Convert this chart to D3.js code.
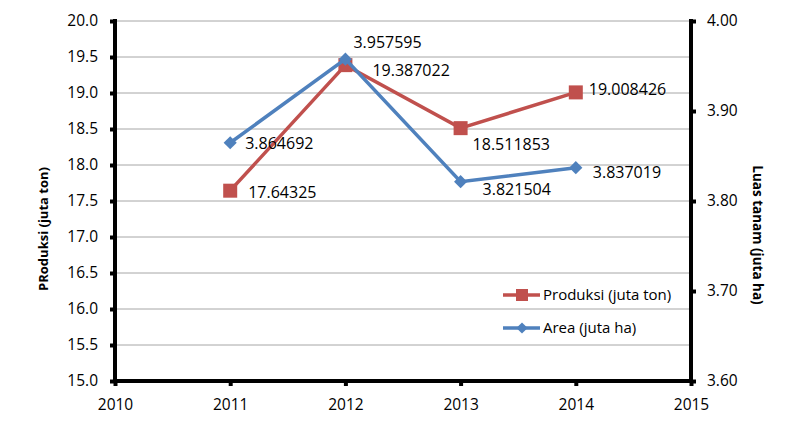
<!DOCTYPE html>
<html><head><meta charset="utf-8">
<script src="https://cdn.jsdelivr.net/npm/d3@7"></script>
<style>body{margin:0;background:#fff}svg{display:block}text{font-family:"Open Sans",sans-serif;fill:#000}</style>
</head><body><svg id="c" width="800" height="429"></svg>
<script>
const years = [2011, 2012, 2013, 2014];
const produksi = [17.64325, 19.387022, 18.511853, 19.008426];
const area = [3.864692, 3.957595, 3.821504, 3.837019];
const produksiLabels = ["17.64325", "19.387022", "18.511853", "19.008426"];
const areaLabels = ["3.864692", "3.957595", "3.821504", "3.837019"];
const xTicks = [2010, 2011, 2012, 2013, 2014, 2015];
const leftTicks = [15.0, 15.5, 16.0, 16.5, 17.0, 17.5, 18.0, 18.5, 19.0, 19.5, 20.0];
const rightTicks = [3.60, 3.70, 3.80, 3.90, 4.00];
const seriesNames = ["Produksi (juta ton)", "Area (juta ha)"];
const leftTitle = "PRoduksi (juta ton)";
const rightTitle = "Luas tanam (juta ha)";

// label offsets (style)
const pOff = [[18,2],[27,5],[12,16],[13,-3]];
const aOff = [[15,1],[8,-17],[22,8],[17,5]];

const svg = d3.select("#c");
const L = 115, R = 691, T = 21, B = 381;
const x = d3.scaleLinear().domain([2010, 2015]).range([L, R]);
const yL = d3.scaleLinear().domain([15, 20]).range([B, T]);
const yR = d3.scaleLinear().domain([3.6, 4.0]).range([B, T]);
const red = "#C0504D", blue = "#4F81BD";

// gridlines
svg.append("g").selectAll("line").data(leftTicks.filter(d => d > 15)).join("line")
  .attr("x1", L).attr("x2", R).attr("y1", d => yL(d)).attr("y2", d => yL(d))
  .attr("stroke", "#A6A6A6").attr("stroke-width", 1);

// axes
const axL = d3.axisLeft(yL).tickValues(leftTicks).tickFormat(d3.format(".1f")).tickSize(5).tickPadding(12);
const axR = d3.axisRight(yR).tickValues(rightTicks).tickFormat(d3.format(".2f")).tickSize(5).tickPadding(11);
const axB = d3.axisBottom(x).tickValues(xTicks).tickFormat(d3.format("d")).tickSize(5).tickPadding(13);
function style(g){
  g.select(".domain").remove();
  g.selectAll(".tick line").attr("stroke", "#000").attr("stroke-width", 4);
  g.selectAll(".tick text").style("font-size", "15.5px").style("font-family", "'Open Sans',sans-serif").attr("fill", "#222");
}
svg.append("g").attr("transform", `translate(${L},0)`).call(axL).call(style);
svg.append("g").attr("transform", `translate(${R},0)`).call(axR).call(style);
svg.append("g").attr("transform", `translate(0,${B})`).call(axB).call(style);

svg.append("line").attr("x1", L).attr("x2", L).attr("y1", T - 2).attr("y2", B + 2).attr("stroke", "#000").attr("stroke-width", 4);
svg.append("line").attr("x1", R).attr("x2", R).attr("y1", T - 2).attr("y2", B + 2).attr("stroke", "#000").attr("stroke-width", 4);
svg.append("line").attr("x1", L - 2).attr("x2", R + 2).attr("y1", B).attr("y2", B).attr("stroke", "#000").attr("stroke-width", 4);

// titles
svg.append("text").attr("transform", `translate(48,229) rotate(-90)`)
  .attr("text-anchor", "middle").style("font-weight", "bold").style("font-size", "13px").text(leftTitle);
svg.append("text").attr("transform", `translate(753,235) rotate(90)`)
  .attr("text-anchor", "middle").style("font-weight", "bold").style("font-size", "13.5px").text(rightTitle);

const diamond = d3.symbol().type(d3.symbolDiamond2).size(110);
// Produksi
const lineP = d3.line().x((d, i) => x(years[i])).y(d => yL(d));
svg.append("path").attr("d", lineP(produksi)).attr("fill", "none").attr("stroke", red).attr("stroke-width", 3.5);
svg.append("g").selectAll("rect").data(produksi).join("rect")
  .attr("x", (d, i) => x(years[i]) - 7).attr("y", d => yL(d) - 7).attr("width", 14).attr("height", 14).attr("fill", red);
// Area
const lineA = d3.line().x((d, i) => x(years[i])).y(d => yR(d));
svg.append("path").attr("d", lineA(area)).attr("fill", "none").attr("stroke", blue).attr("stroke-width", 3.5);
svg.append("g").selectAll("path").data(area).join("path")
  .attr("transform", (d, i) => `translate(${x(years[i])},${yR(d)})`).attr("d", diamond).attr("fill", blue);

// data labels
svg.append("g").selectAll("text").data(produksi).join("text")
  .attr("x", (d, i) => x(years[i]) + pOff[i][0]).attr("y", (d, i) => yL(d) + pOff[i][1])
  .attr("dy", "0.35em").style("font-size", "16px").attr("fill", "#222").text((d, i) => produksiLabels[i]);
svg.append("g").selectAll("text").data(area).join("text")
  .attr("x", (d, i) => x(years[i]) + aOff[i][0]).attr("y", (d, i) => yR(d) + aOff[i][1])
  .attr("dy", "0.35em").style("font-size", "16px").attr("fill", "#222").text((d, i) => areaLabels[i]);

// legend
const lg = svg.append("g");
[[red, 295], [blue, 328]].forEach(([c, yy], i) => {
  lg.append("line").attr("x1", 503).attr("x2", 540).attr("y1", yy).attr("y2", yy).attr("stroke", c).attr("stroke-width", 3.5);
  if (i === 0) lg.append("rect").attr("x", 516).attr("y", yy - 6).attr("width", 12).attr("height", 12).attr("fill", c);
  else lg.append("path").attr("transform", `translate(522,${yy})`).attr("d", d3.symbol().type(d3.symbolDiamond2).size(80)).attr("fill", c);
  lg.append("text").attr("x", 543).attr("y", yy).attr("dy", "0.35em").style("font-size", "15px").attr("fill", "#222").text(seriesNames[i]);
});
</script></body></html>
